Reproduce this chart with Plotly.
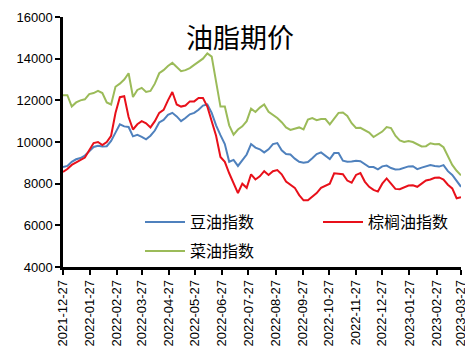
import pandas as pd
import plotly.graph_objects as go

# x grid: every 5 calendar days across the chart span
DATES = pd.date_range("2021-12-27", "2023-03-27", freq="5D")

soybean = [8800, 8850, 9050, 9170, 9230, 9350, 9550, 9760, 9820, 9780,
           9800, 10050, 10450, 10850, 10750, 10720, 10270, 10340, 10250, 10130,
           10300, 10550, 10940, 11060, 11300, 11400, 11230, 11000, 11150, 11330,
           11400, 11550, 11750, 11800, 11400, 10800, 10330, 9900, 9050, 9140,
           8850, 9150, 9400, 9900, 9730, 9650, 9500, 9650, 9900, 9950,
           9600, 9420, 9400, 9200, 9050, 9000, 9040, 9220, 9420, 9500,
           9350, 9180, 9470, 9470, 9100, 9050, 9060, 9100, 9080, 8940,
           8800, 8800, 8690, 8830, 8870, 8750, 8680, 8690, 8750, 8830,
           8840, 8700, 8770, 8830, 8890, 8850, 8820, 8890, 8600, 8420,
           8150, 7850]

palm = [8560, 8700, 8900, 9020, 9100, 9250, 9600, 9950, 10000, 9850,
        10000, 10300, 11390, 12150, 12200, 11200, 10600, 10850, 11000, 10900,
        10700, 11000, 11400, 11540, 12000, 12400, 11800, 11700, 11750, 11950,
        11950, 12110, 12110, 11700, 11000, 10300, 9280, 9050, 8500, 8000,
        7550, 8000, 7800, 8450, 8200, 8350, 8600, 8420, 8600, 8650,
        8450, 8100, 7950, 7800, 7450, 7200, 7200, 7400, 7550, 7800,
        7920, 8000, 8500, 8480, 8450, 8150, 8050, 8420, 8510, 8100,
        7850, 7700, 7620, 8000, 8250, 8000, 7750, 7730, 7840, 7910,
        7920, 7850, 8000, 8150, 8200, 8280, 8300, 8200, 7950, 7770,
        7300, 7350]

rapeseed = [12250, 12250, 11700, 11900, 12000, 12050, 12300, 12350, 12450, 12350,
            11900, 11800, 12650, 12800, 13000, 13300, 12160, 12500, 12600, 12400,
            12450, 12800, 13300, 13450, 13650, 13800, 13600, 13400, 13450, 13550,
            13700, 13850, 14000, 14250, 14100, 12900, 11700, 11700, 10800, 10350,
            10600, 10750, 11000, 11600, 11440, 11650, 11800, 11450, 11300, 11150,
            10950, 10700, 10580, 10650, 10700, 10600, 11080, 11150, 11050, 11100,
            11100, 10850, 11150, 11400, 11420, 11250, 10900, 10670, 10680, 10550,
            10450, 10240, 10350, 10500, 10720, 10670, 10300, 10080, 10000, 10050,
            10000, 9880, 9790, 9800, 9940, 9890, 9900, 9750, 9300, 8900,
            8620, 8400]

TICK_DATES = ["2021-12-27", "2022-01-27", "2022-02-27", "2022-03-27", "2022-04-27",
              "2022-05-27", "2022-06-27", "2022-07-27", "2022-08-27", "2022-09-27",
              "2022-10-27", "2022-11-27", "2022-12-27", "2023-01-27", "2023-02-27",
              "2023-03-27"]

TITLE = "油脂期价"
NAMES = ["豆油指数", "棕榈油指数", "菜油指数"]
COLORS = ["#4F81BD", "#E8101A", "#9BBB59"]

CJK = "Noto Sans CJK SC"
fig = go.Figure()
series = [soybean, palm, rapeseed]
legends = ["legend", "legend2", "legend3"]
for name, vals, col, lg in zip(NAMES, series, COLORS, legends):
    fig.add_trace(go.Scatter(x=DATES, y=vals, mode="lines", name=name,
                             line=dict(color=col, width=2), legend=lg))

# page body has an 8px default margin; target window is 473x355
OFF = 8
W, H = 473 - OFF, 355 - OFF
L, R, T, B = 63 - OFF, 12, 17 - OFF, 88
pw, ph = W - L - R, H - T - B

def lx(px):
    return (px - OFF - L) / pw

def ly(py):
    return (H - B - (py - OFF)) / ph

leg_common = dict(bgcolor="rgba(0,0,0,0)", borderwidth=0, itemwidth=40,
                  font=dict(family=CJK, size=16, color="#000"),
                  xanchor="left", yanchor="middle")
fig.update_layout(
    legend=dict(x=lx(140), y=ly(222), **leg_common),
    legend2=dict(x=lx(318), y=ly(222), **leg_common),
    legend3=dict(x=lx(140), y=ly(251), **leg_common),
)

fig.update_layout(
    width=W, height=H,
    margin=dict(l=L, r=R, t=T, b=B, pad=0),
    paper_bgcolor="white", plot_bgcolor="white",
    showlegend=True,
    font=dict(family="Liberation Sans, Arial", color="#000", size=13),
    annotations=[dict(text=TITLE, xref="paper", yref="paper",
                      x=lx(240), y=ly(37), xanchor="center", yanchor="middle",
                      showarrow=False,
                      font=dict(family=CJK, size=27, color="#000"))],
)
fig.update_xaxes(
    type="date", range=["2021-12-27", "2023-03-27"], automargin=False,
    tickmode="array", tickvals=TICK_DATES, ticktext=TICK_DATES,
    tickangle=-90, ticks="outside", ticklen=5, tickwidth=2, tickcolor="#000",
    showline=True, linecolor="#000", linewidth=2.5, showgrid=False, zeroline=False,
    tickfont=dict(size=13, family="Liberation Sans, Arial", color="#000"),
)
fig.update_yaxes(
    range=[4000, 16000], tickvals=[4000, 6000, 8000, 10000, 12000, 14000, 16000],
    automargin=False,
    tickformat="d", ticks="outside", ticklen=5, tickwidth=2, tickcolor="#000",
    showline=True, linecolor="#000", linewidth=2.5, showgrid=False, zeroline=False,
    tickfont=dict(size=13, family="Liberation Sans, Arial", color="#000"),
)

fig.write_html("out.html")
